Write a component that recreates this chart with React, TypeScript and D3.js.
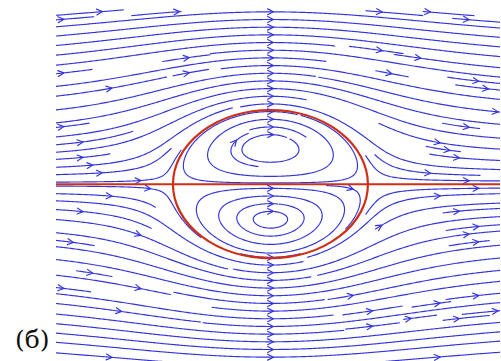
import React, { useMemo } from "react";
import * as d3 from "d3";

// ---- data / parameters ----
// Lamb–Chaplygin dipole in the frame moving with it
const xDomain = [-2.2, 2.355];
const yDomain = [-2.39, 2.38];
const dipoleRadius = [1];
const uniformSpeed = [1];
const besselZero = [3.8317059702]; // first zero of J1
const gridCounts = [46, 46]; // collision/seed grid (cols, rows)
const priorityColumns = [0]; // data-x of seed columns processed first
const labelText = ["(б)"];

const W = 501;
const H = 361;
const plot = { left: 56, right: 500, top: 8, bottom: 361 };

const BLUE = "#3434de";
const RED = "#cf2f17";

function besselJ(n: number, z: number) {
  let fact = 1;
  for (let i = 2; i <= n; i++) fact *= i;
  let term = Math.pow(z / 2, n) / fact;
  let sum = 0;
  const q = (z / 2) * (z / 2);
  for (let m = 0; m < 30; m++) {
    sum += term;
    term *= -q / ((m + 1) * (m + 1 + n));
  }
  return sum;
}

function velocity(x: number, y: number): [number, number] {
  const a = dipoleRadius[0];
  const U = uniformSpeed[0];
  const r2 = x * x + y * y;
  if (r2 < a * a) {
    const k = besselZero[0] / a;
    const C = (2 * U) / (k * besselJ(0, k * a));
    const r = Math.max(Math.sqrt(r2), 1e-6);
    const z = k * r;
    const J1 = besselJ(1, z);
    const J0 = besselJ(0, z);
    const J1p = J0 - J1 / z;
    const g = J1 / r;
    const gp = (k * J1p * r - J1) / (r * r);
    const u = C * (g + (y * y * gp) / r);
    const v = (-C * x * y * gp) / r;
    return [u, v];
  }
  const a2 = a * a;
  const r4 = r2 * r2;
  const u = U * (1 - a2 / r2 + (2 * a2 * y * y) / r4);
  const v = (-U * 2 * a2 * x * y) / r4;
  return [u, v];
}

function computeStreams() {
  const xs = d3.scaleLinear().domain(xDomain).range([plot.left, plot.right]);
  const ys = d3.scaleLinear().domain(yDomain).range([plot.bottom, plot.top]);
  const kx = xs(1) - xs(0);
  const ky = ys(0) - ys(1);
  const [nx, ny] = gridCounts;
  const cw = (plot.right - plot.left) / nx;
  const ch = (plot.bottom - plot.top) / ny;
  const occ = new Uint8Array(nx * ny);
  const idx = (px: number, py: number) => {
    const cx = Math.min(nx - 1, Math.max(0, Math.floor((px - plot.left) / cw)));
    const cy = Math.min(ny - 1, Math.max(0, Math.floor((py - plot.top) / ch)));
    return cy * nx + cx;
  };
  const f = (px: number, py: number, dir: number): [number, number, number] => {
    const [u, v] = velocity(xs.invert(px), ys.invert(py));
    const dx = u * kx;
    const dy = -v * ky;
    const m = Math.hypot(dx, dy);
    if (m < 1e-9) return [0, 0, 0];
    return [(dir * dx) / m, (dir * dy) / m, Math.hypot(u, v)];
  };
  const inside = (px: number, py: number) =>
    px >= plot.left - 1 && px <= plot.right + 1 && py >= plot.top - 1 && py <= plot.bottom + 1;

  const trace = (sx: number, sy: number, dir: number) => {
    const pts: [number, number][] = [[sx, sy]];
    let px = sx, py = sy;
    let cell = idx(px, py);
    const h = 1.5;
    for (let i = 0; i < 4000; i++) {
      const k1 = f(px, py, dir);
      if (k1[2] < 2e-3) break;
      const k2 = f(px + (h / 2) * k1[0], py + (h / 2) * k1[1], dir);
      if (k1[0] * k2[0] + k1[1] * k2[1] < 0) break;
      px += h * k2[0];
      py += h * k2[1];
      if (!inside(px, py)) {
        pts.push([px, py]);
        break;
      }
      const c = idx(px, py);
      if (c !== cell) {
        if (occ[c]) break;
        occ[c] = 1;
        cell = c;
      }
      pts.push([px, py]);
    }
    return pts;
  };

  const seeds: [number, number][] = [];
  for (const xc of priorityColumns) {
    const px = xs(xc);
    for (let j = 0; j < ny; j++) seeds.push([px, plot.top + (j + 0.5) * ch]);
  }
  const order: { k: number; h: number }[] = [];
  for (let k = 0; k < nx * ny; k++) {
    const hsh = (Math.imul(k + 1, 2654435761) >>> 0) ^ (Math.imul(k + 7, 40503) >>> 0);
    order.push({ k, h: hsh >>> 0 });
  }
  order.sort((a, b) => a.h - b.h);
  for (const o of order) {
    const i = o.k % nx;
    const j = Math.floor(o.k / nx);
    seeds.push([plot.left + (i + 0.5) * cw, plot.top + (j + 0.5) * ch]);
  }

  const lines: [number, number][][] = [];
  const arrows: { x: number; y: number; dx: number; dy: number }[] = [];
  for (const [sx, sy] of seeds) {
    const c0 = idx(sx, sy);
    if (occ[c0]) continue;
    const s0 = f(sx, sy, 1);
    if (s0[2] < 2e-3) continue;
    occ[c0] = 1;
    const fw = trace(sx, sy, 1);
    const bw = trace(sx, sy, -1);
    const pts = bw.slice().reverse().concat(fw.slice(1));
    let len = 0;
    for (let i = 1; i < pts.length; i++)
      len += Math.hypot(pts[i][0] - pts[i - 1][0], pts[i][1] - pts[i - 1][1]);
    const ex = d3.extent(pts, (p) => p[0]) as [number, number];
    const ey = d3.extent(pts, (p) => p[1]) as [number, number];
    const span = Math.max(ex[1] - ex[0], ey[1] - ey[0]);
    if (len < 10 || span < 30) continue;
    lines.push(pts);
    if (len > 22) {
      let dx = s0[0], dy = s0[1];
      if (dx < 0 && Math.abs(dx) > Math.abs(dy)) { dx = -dx; dy = -dy; }
      arrows.push({ x: sx, y: sy, dx, dy });
    }
  }
  return { xs, ys, lines, arrows };
}

export default function App() {
  const { xs, ys, lines, arrows } = useMemo(computeStreams, []);
  const line = d3.line<[number, number]>().x((d) => d[0]).y((d) => d[1]);
  const cx = xs(0);
  const cy = ys(0);
  const rx = xs(dipoleRadius[0]) - xs(0);
  const ry = ys(0) - ys(dipoleRadius[0]);
  const arm = 6.5;
  const ang = (27 * Math.PI) / 180;
  return (
    <svg width={W} height={H} style={{ position: "absolute", left: 0, top: 0, background: "#fff" }}>
      <defs>
        <clipPath id="plotclip">
          <rect x={plot.left} y={plot.top - 1} width={plot.right - plot.left} height={plot.bottom - plot.top + 1} />
        </clipPath>
      </defs>
      <g clipPath="url(#plotclip)" fill="none" stroke={BLUE} strokeWidth={1.15} strokeLinecap="round" strokeLinejoin="round">
        {lines.map((p, i) => (
          <path key={i} d={line(p) || ""} />
        ))}
        {arrows.map((a, i) => {
          const tx = a.x + a.dx * 3;
          const ty = a.y + a.dy * 3;
          const bx = -a.dx, by = -a.dy;
          const c = Math.cos(ang), s = Math.sin(ang);
          const x1 = tx + arm * (bx * c - by * s);
          const y1 = ty + arm * (bx * s + by * c);
          const x2 = tx + arm * (bx * c + by * s);
          const y2 = ty + arm * (-bx * s + by * c);
          return <path key={"a" + i} d={`M${x1},${y1}L${tx},${ty}L${x2},${y2}`} />;
        })}
      </g>
      <line x1={plot.left} x2={plot.right} y1={cy} y2={cy} stroke={RED} strokeWidth={2} />
      <ellipse cx={cx} cy={cy} rx={rx} ry={ry} fill="none" stroke={RED} strokeWidth={2.2} />
      <text x={15} y={348} fontFamily="DejaVu Serif" fontSize={25} fill="#111">
        {labelText[0]}
      </text>
    </svg>
  );
}
